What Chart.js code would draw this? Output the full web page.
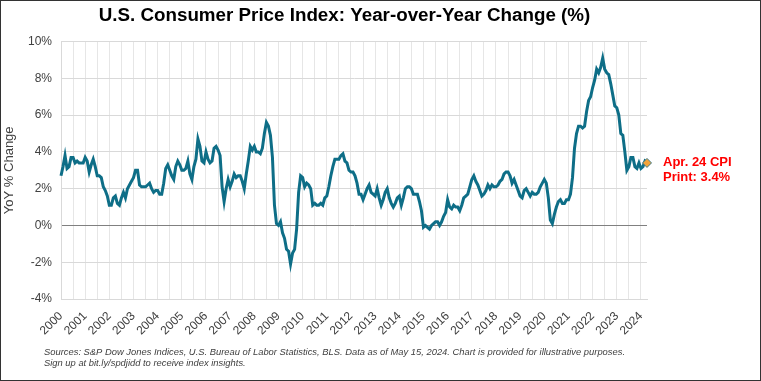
<!DOCTYPE html>
<html><head><meta charset="utf-8">
<script src="https://cdn.jsdelivr.net/npm/chart.js@4/dist/chart.umd.min.js"></script>
<style>html,body{margin:0;padding:0;background:#fff}#wrap{width:761px;height:381px}</style>
</head><body><div id="wrap"><canvas id="c" width="761" height="381"></canvas></div>
<script>
// Monthly CPI YoY change (%), Jan 2000 - Apr 2024
const yoy2000s = [
  2.7,3.2,3.8,3.1,3.2,3.7,3.7,3.4,3.5,3.4,3.4,3.4,
  3.7,3.5,2.9,3.3,3.6,3.2,2.7,2.7,2.6,2.1,1.9,1.6,
  1.1,1.1,1.5,1.6,1.2,1.1,1.5,1.8,1.5,2.0,2.2,2.4,
  2.6,3.0,3.0,2.2,2.1,2.1,2.1,2.2,2.3,2.0,1.8,1.9,
  1.9,1.7,1.7,2.3,3.1,3.3,3.0,2.7,2.5,3.2,3.5,3.3,
  3.0,3.0,3.1,3.5,2.8,2.5,3.2,3.6,4.7,4.3,3.5,3.4,
  4.0,3.6,3.4,3.5,4.2,4.3,4.1,3.8,2.1,1.3,2.0,2.5,
  2.1,2.4,2.8,2.6,2.7,2.7,2.4,2.0,2.8,3.5,4.3,4.1,
  4.3,4.0,4.0,3.9,4.2,5.0,5.6,5.4,4.9,3.7,1.1,0.1,
  0.0,0.2,-0.4,-0.7,-1.3,-1.4,-2.1,-1.5,-1.3,-0.2,1.8,2.7
];
const yoy2010s = [
  2.6,2.1,2.3,2.2,2.0,1.1,1.2,1.1,1.1,1.2,1.1,1.5,
  1.6,2.1,2.7,3.2,3.6,3.6,3.6,3.8,3.9,3.5,3.4,3.0,
  2.9,2.9,2.7,2.3,1.7,1.7,1.4,1.7,2.0,2.2,1.8,1.7,
  1.6,2.0,1.5,1.1,1.4,1.8,2.0,1.5,1.2,1.0,1.2,1.5,
  1.6,1.1,1.5,2.0,2.1,2.1,2.0,1.7,1.7,1.7,1.3,0.8,
  -0.1,0.0,-0.1,-0.2,0.0,0.1,0.2,0.2,0.0,0.2,0.5,0.7,
  1.4,1.0,0.9,1.1,1.0,1.0,0.8,1.1,1.5,1.6,1.7,2.1,
  2.5,2.7,2.4,2.2,1.9,1.6,1.7,1.9,2.2,2.0,2.2,2.1,
  2.1,2.2,2.4,2.5,2.8,2.9,2.9,2.7,2.3,2.5,2.2,1.9,
  1.6,1.5,1.9,2.0,1.8,1.6,1.8,1.7,1.7,1.8,2.1,2.3
];
const yoy2020s = [
  2.5,2.3,1.5,0.3,0.1,0.6,1.0,1.3,1.4,1.2,1.2,1.4,
  1.4,1.7,2.6,4.2,5.0,5.4,5.4,5.3,5.4,6.2,6.8,7.0,
  7.5,7.9,8.5,8.3,8.6,9.1,8.5,8.3,8.2,7.7,7.1,6.5,
  6.4,6.0,5.0,4.9,4.0,3.0,3.2,3.7,3.7,3.2,3.1,3.4,
  3.1,3.2,3.5,3.4
];
const startYear = 2000;
const tickYears = ['2000','2001','2002','2003','2004','2005','2006','2007','2008','2009','2010','2011','2012',
  '2013','2014','2015','2016','2017','2018','2019','2020','2021','2022','2023','2024'];
const titleText = 'U.S. Consumer Price Index: Year-over-Year Change (%)';
const yAxisTitle = 'YoY % Change';
const calloutLines = ['Apr. 24 CPI', 'Print: 3.4%'];
const footnoteLines = [
  'Sources: S&P Dow Jones Indices, U.S. Bureau of Labor Statistics, BLS. Data as of May 15, 2024. Chart is provided for illustrative purposes.',
  'Sign up at bit.ly/spdjidd to receive index insights.'
];

const values = yoy2000s.concat(yoy2010s, yoy2020s);
const categories = values.map((v, i) => (startYear + Math.floor(i / 12)) + '-' + String(i % 12 + 1).padStart(2, '0'));

const FONT = 'Arial, "Liberation Sans", sans-serif';
const LINE = '#0E6E87';

const bgAndBorder = {
  id: 'bgAndBorder',
  beforeDraw(chart) {
    const c = chart.ctx; c.save(); c.fillStyle = '#fff'; c.fillRect(0, 0, chart.width, chart.height); c.restore();
  },
  afterDraw(chart) {
    const c = chart.ctx; c.save();
    c.strokeStyle = '#333'; c.lineWidth = 1; c.strokeRect(0.5, 0.5, chart.width - 1, chart.height - 1);
    c.font = 'italic 9.4px ' + FONT; c.fillStyle = '#404040'; c.textBaseline = 'middle'; c.textAlign = 'left';
    c.fillText(footnoteLines[0], 44, 352);
    c.fillText(footnoteLines[1], 44, 363);
    c.restore();
  }
};
const callout = {
  id: 'callout',
  afterDatasetsDraw(chart) {
    const meta = chart.getDatasetMeta(0);
    const p = meta.data[meta.data.length - 1];
    const c = chart.ctx; c.save();
    c.font = 'bold 13px ' + FONT; c.fillStyle = '#FF0000'; c.textBaseline = 'middle'; c.textAlign = 'left';
    c.fillText(calloutLines[0], p.x + 16, p.y - 1);
    c.fillText(calloutLines[1], p.x + 16, p.y + 14);
    c.restore();
  }
};

new Chart(document.getElementById('c'), {
  type: 'line',
  data: {
    labels: categories,
    datasets: [{
      data: values,
      borderColor: LINE,
      borderWidth: 3,
      tension: 0,
      pointStyle: 'rectRot',
      pointRadius: ctx => ctx.dataIndex === values.length - 1 ? 4.5 : 0,
      pointBackgroundColor: '#F2A33A',
      pointBorderColor: '#3C7A8A',
      pointBorderWidth: 1
    }]
  },
  options: {
    responsive: false,
    animation: false,
    layout: { padding: { left: 0, right: 72, top: 0, bottom: 0 } },
    plugins: {
      legend: { display: false },
      tooltip: { enabled: false },
      title: {
        display: true, text: titleText, color: '#000',
        font: { family: FONT, size: 18.8, weight: 'bold' },
        padding: { top: 5, bottom: 14 }
      }
    },
    scales: {
      x: {
        type: 'category', offset: false,
        grid: { color: ctx => (ctx.index % 6 === 0 ? '#e6e6e6' : 'rgba(0,0,0,0)'), drawTicks: false, offset: false },
        border: { display: true, color: '#d9d9d9' },
        ticks: {
          autoSkip: false, minRotation: 45, maxRotation: 45, padding: 10,
          color: '#404040', font: { family: FONT, size: 12 },
          callback: (val, i) => (i % 12 === 0 ? tickYears[i / 12] : '')
        },
        afterFit: s => { s.height = 82; }
      },
      y: {
        min: -4, max: 10,
        ticks: { stepSize: 2, callback: v => v + '%', padding: 9, color: '#404040', font: { family: FONT, size: 12 } },
        grid: { color: ctx => (ctx.tick && ctx.tick.value === 0 ? '#808080' : '#d9d9d9'), drawTicks: false },
        border: { color: '#d9d9d9' },
        title: { display: true, text: yAxisTitle, color: '#404040', font: { family: FONT, size: 13 }, padding: { top: 2, bottom: 0 } },
        afterFit: s => { s.width = 61; }
      },
      yR: {
        position: 'right', display: true,
        grid: { display: false }, ticks: { display: false }, border: { display: false },
        afterFit: s => { s.width = 42; }
      }
    }
  },
  plugins: [bgAndBorder, callout]
});
</script>
</body></html>
